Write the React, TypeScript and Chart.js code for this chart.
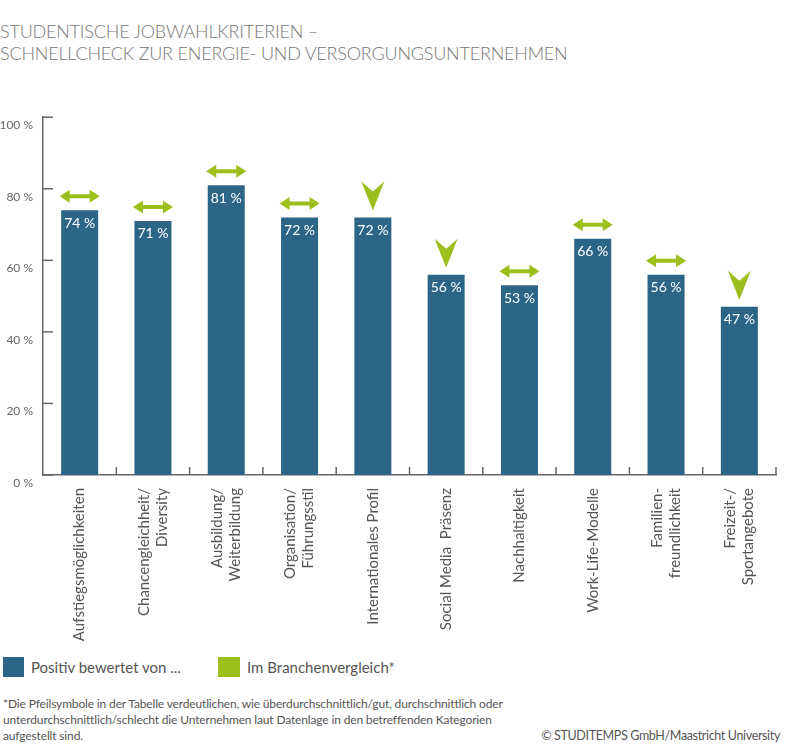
import React, { useEffect, useRef } from "react";
import { Chart, registerables } from "chart.js";

Chart.register(...registerables);

const titleLines = [
  "STUDENTISCHE JOBWAHLKRITERIEN –",
  "SCHNELLCHECK ZUR ENERGIE- UND VERSORGUNGSUNTERNEHMEN",
];

const categories: string[][] = [
  ["Aufstiegsmöglichkeiten"],
  ["Chancengleichheit/", "Diversity"],
  ["Ausbildung/", "Weiterbildung"],
  ["Organisation/", "Führungsstil"],
  ["Internationales Profil"],
  ["Social Media  Präsenz"],
  ["Nachhaltigkeit"],
  ["Work-Life-Modelle"],
  ["Familien-", "freundlichkeit"],
  ["Freizeit-/", "Sportangebote"],
];

const positiveValues = [74, 71, 81, 72, 72, 56, 53, 66, 56, 47];

// "equal" = double arrow (durchschnittlich), "below" = arrow down
const industryComparison = [
  "equal",
  "equal",
  "equal",
  "equal",
  "below",
  "below",
  "equal",
  "equal",
  "equal",
  "below",
];

const yTickValues = [0, 20, 40, 60, 80, 100];

const legendLabels = ["Positiv bewertet von ...", "Im Branchenvergleich*"];

const footnoteLines = [
  "*Die Pfeilsymbole in der Tabelle verdeutlichen, wie überdurchschnittlich/gut, durchschnittlich oder",
  "unterdurchschnittlich/schlecht die Unternehmen laut Datenlage in den betreffenden Kategorien",
  "aufgestellt sind.",
];

const copyright = "© STUDITEMPS GmbH/Maastricht University";

const BLUE = "#2d6587";
const GREEN = "#9dbf1c";
const AXIS = "#666666";
const FONT = "Lato, 'Open Sans', sans-serif";

const decorPlugin = {
  id: "decor",
  afterDatasetsDraw(chart: any) {
    const { ctx, chartArea } = chart;
    const xs = chart.scales.x;
    const ys = chart.scales.y;
    const meta = chart.getDatasetMeta(0);
    ctx.save();
    // value labels inside bars
    ctx.fillStyle = "#ffffff";
    ctx.font = `14px ${FONT}`;
    ctx.textAlign = "center";
    ctx.textBaseline = "middle";
    meta.data.forEach((bar: any, i: number) => {
      ctx.fillText(`${positiveValues[i]} %`, bar.x, bar.y + 13);
    });
    // comparison arrows
    ctx.fillStyle = GREEN;
    meta.data.forEach((bar: any, i: number) => {
      const cx = bar.x;
      const top = bar.y;
      if (industryComparison[i] === "equal") {
        const cy = top - 14;
        const hw = 20;
        const head = 10;
        const hh = 6.5;
        const st = 2;
        ctx.beginPath();
        ctx.moveTo(cx - hw, cy);
        ctx.lineTo(cx - hw + head, cy - hh);
        ctx.lineTo(cx - hw + head, cy - st);
        ctx.lineTo(cx + hw - head, cy - st);
        ctx.lineTo(cx + hw - head, cy - hh);
        ctx.lineTo(cx + hw, cy);
        ctx.lineTo(cx + hw - head, cy + hh);
        ctx.lineTo(cx + hw - head, cy + st);
        ctx.lineTo(cx - hw + head, cy + st);
        ctx.lineTo(cx - hw + head, cy + hh);
        ctx.closePath();
        ctx.fill();
      } else {
        const tip = top - 7;
        const h = 29;
        const w = 11.5;
        ctx.beginPath();
        ctx.moveTo(cx, tip);
        ctx.lineTo(cx - w, tip - h);
        ctx.lineTo(cx, tip - h + 10);
        ctx.lineTo(cx + w, tip - h);
        ctx.closePath();
        ctx.fill();
      }
    });
    // inward axis ticks
    ctx.strokeStyle = AXIS;
    ctx.lineWidth = 1.5;
    yTickValues.forEach((v) => {
      const y = ys.getPixelForValue(v);
      ctx.beginPath();
      ctx.moveTo(chartArea.left, y);
      ctx.lineTo(chartArea.left + 10, y);
      ctx.stroke();
    });
    categories.forEach((_, i) => {
      const x = xs.getPixelForValue(i + 0.5);
      ctx.beginPath();
      ctx.moveTo(x, chartArea.bottom);
      ctx.lineTo(x, chartArea.bottom - 8);
      ctx.stroke();
    });
    // rotated category labels
    ctx.fillStyle = "#555555";
    ctx.font = `15px ${FONT}`;
    ctx.textAlign = "right";
    ctx.textBaseline = "middle";
    const lh = 18;
    categories.forEach((lines, i) => {
      const x = xs.getPixelForValue(i);
      ctx.save();
      ctx.translate(x, chartArea.bottom + 13);
      ctx.rotate(-Math.PI / 2);
      lines.forEach((line, j) => {
        const off = (j - (lines.length - 1) / 2) * lh;
        ctx.fillText(line, 0, off);
      });
      ctx.restore();
    });
    ctx.restore();
  },
};

function BarChart() {
  const ref = useRef<HTMLCanvasElement | null>(null);
  useEffect(() => {
    if (!ref.current) return;
    const chart = new Chart(ref.current, {
      type: "bar",
      data: {
        labels: categories.map((c) => c.join(" ")),
        datasets: [
          {
            label: legendLabels[0],
            data: positiveValues,
            backgroundColor: BLUE,
            borderWidth: 0,
            barPercentage: 0.505,
            categoryPercentage: 1,
          },
        ],
      },
      options: {
        animation: false,
        responsive: false,
        layout: { padding: { top: 17, right: 16, left: 0, bottom: 0 } },
        plugins: {
          legend: { display: false },
          tooltip: { enabled: false },
          title: { display: false },
        },
        scales: {
          x: {
            grid: { display: false, drawTicks: false },
            border: { display: true, color: AXIS, width: 1.5 },
            ticks: { display: false },
            afterFit: (s: any) => {
              s.height = 180;
            },
          },
          y: {
            min: 0,
            max: 100,
            afterBuildTicks: (s: any) => {
              s.ticks = yTickValues.map((v) => ({ value: v }));
            },
            grid: { display: false, drawTicks: false },
            border: { display: true, color: AXIS, width: 1.5 },
            ticks: {
              padding: 10,
              labelOffset: 8,
              color: "#666666",
              font: { family: FONT, size: 12 },
              callback: (v: any) => `${v} %`,
            },
            afterFit: (s: any) => {
              s.width = 43;
            },
          },
        },
      },
      plugins: [decorPlugin],
    });
    return () => chart.destroy();
  }, []);
  return (
    <canvas
      ref={ref}
      width={792}
      height={555}
      style={{ position: "absolute", left: 0, top: 100, width: 792, height: 555 }}
    />
  );
}

export default function App() {
  return (
    <div
      style={{
        position: "absolute",
        left: 0,
        top: 0,
        width: 792,
        height: 750,
        background: "#ffffff",
        fontFamily: FONT,
        overflow: "hidden",
      }}
    >
      <div
        style={{
          position: "absolute",
          left: 0,
          top: 20,
          fontSize: 18,
          lineHeight: "22px",
          fontWeight: 300,
          color: "#777777",
          whiteSpace: "nowrap",
          letterSpacing: "-0.2px",
        }}
      >
        {titleLines.map((t) => (
          <div key={t}>{t}</div>
        ))}
      </div>
      <BarChart />
      <div style={{ position: "absolute", left: 3, top: 657, width: 21, height: 20, background: BLUE }} />
      <div
        style={{ position: "absolute", left: 31, top: 657, lineHeight: "20px", fontSize: 15, color: "#555555", whiteSpace: "nowrap" }}
      >
        {legendLabels[0]}
      </div>
      <div style={{ position: "absolute", left: 218, top: 657, width: 22, height: 20, background: GREEN }} />
      <div
        style={{ position: "absolute", left: 247, top: 657, lineHeight: "20px", fontSize: 15, color: "#555555", whiteSpace: "nowrap" }}
      >
        {legendLabels[1]}
      </div>
      <div
        style={{
          position: "absolute",
          left: 3,
          top: 696,
          fontSize: 12,
          lineHeight: "16px",
          color: "#555555",
          whiteSpace: "nowrap",
          letterSpacing: "-0.15px",
        }}
      >
        {footnoteLines.map((t) => (
          <div key={t}>{t}</div>
        ))}
      </div>
      <div
        style={{
          position: "absolute",
          right: 12,
          top: 728,
          fontSize: 12.5,
          lineHeight: "16px",
          color: "#555555",
          whiteSpace: "nowrap",
          letterSpacing: "-0.35px",
        }}
      >
        {copyright}
      </div>
    </div>
  );
}
